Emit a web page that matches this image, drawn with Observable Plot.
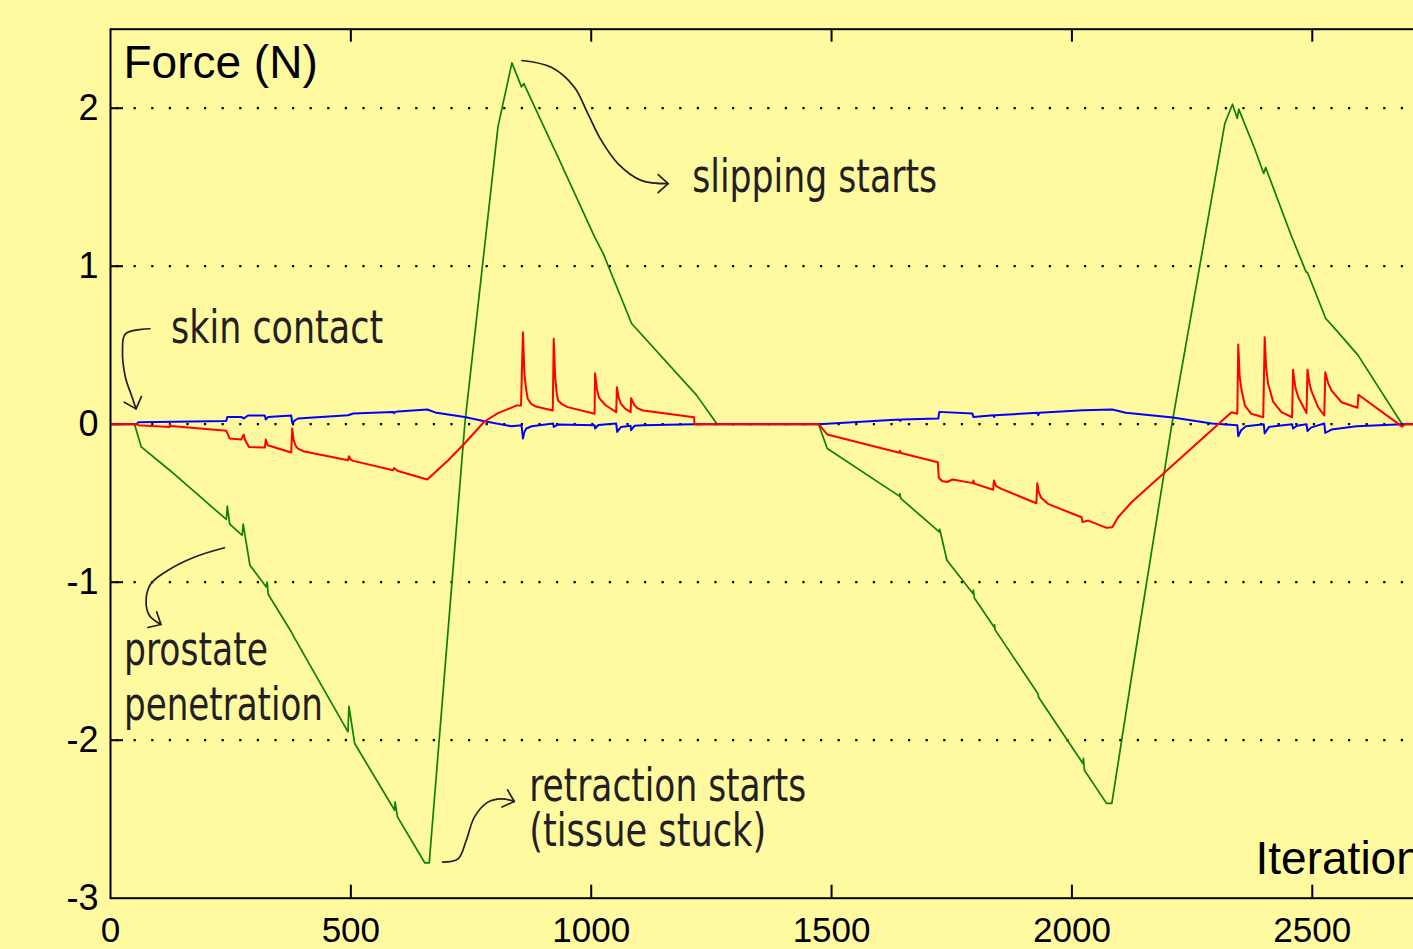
<!DOCTYPE html>
<html><head><meta charset="utf-8">
<script src="https://cdn.jsdelivr.net/npm/d3@7"></script>
<script src="https://cdn.jsdelivr.net/npm/@observablehq/plot@0.6"></script>
<style>
html,body{margin:0;padding:0;background:#FFF9A0;overflow:hidden;}
#chart{width:1413px;height:949px;overflow:hidden;position:relative;}
#chart svg{max-width:none !important;display:block;}
</style></head><body><div id="chart"></div>
<script>
// ---- axes ----
const xTicks = [0, 500, 1000, 1500, 2000, 2500];
const yTickLabels = [2, 1, 0, -1, -2, -3];
const yGrid = [2, 1, 0, -1, -2];
const xTitle = "Iteration";
const yTitle = "Force (N)";

// ---- series: [iteration, force] ----
const greenForce = [
  [0,0],[50,0],[64,-0.144],[125,-0.296],[241,-0.603],[243,-0.519],[248,-0.633],[274,-0.703],[276,-0.633],
  [290,-0.892],[324,-1.03],[326,-1.0],[328,-1.076],[376,-1.314],[383,-1.354],[494,-1.947],[496,-1.785],
  [508,-2.021],[591,-2.443],[592,-2.39],[597,-2.485],[654,-2.777],[663,-2.777],[737,0],[806,1.882],
  [835,2.287],[855,2.135],[860,2.156],[863,2.135],[921,1.755],[926,1.723],[1007,1.185],[1025,1.08],
  [1084,0.637],[1219,0.184],[1262,0],[1473,0],[1491,-0.154],[1641,-0.455],[1642,-0.44],[1644,-0.47],
  [1724,-0.682],[1725,-0.665],[1740,-0.861],[1794,-1.072],[1795,-1.05],[1797,-1.10],[1838,-1.283],
  [1839,-1.27],[1840,-1.30],[1929,-1.705],[1931,-1.73],[2023,-2.148],[2024,-2.115],[2026,-2.19],
  [2072,-2.4],[2083,-2.4],[2124,-1.6],[2208,0],[2318,1.903],[2334,2.025],[2344,1.935],[2347,1.994],
  [2380,1.745],[2399,1.587],[2403,1.625],[2456,1.196],[2487,0.964],[2490,0.96],[2528,0.669],
  [2553,0.584],[2595,0.437],[2687,0],[2800,0]
];
const redForce = [
  [0,0],[54,0],[58,-0.006],[123,-0.017],[124,0],[126,-0.012],[241,-0.042],[248,-0.091],[272,-0.097],
  [277,-0.066],[280,-0.1],[288,-0.144],[321,-0.148],[323,-0.097],[327,-0.133],[376,-0.179],[378,-0.027],
  [381,-0.1],[385,-0.135],[390,-0.154],[401,-0.171],[494,-0.228],[496,-0.203],[499,-0.222],[505,-0.232],
  [588,-0.291],[590,-0.277],[598,-0.296],[659,-0.35],[702,-0.23],[736,-0.124],[778,0.017],[806,0.07],
  [837,0.108],[844,0.118],[854,0.118],[858,0.582],[861,0.319],[865,0.213],[868,0.161],[875,0.129],
  [885,0.112],[920,0.087],[922,0.541],[925,0.3],[928,0.2],[931,0.15],[940,0.125],[951,0.108],
  [1007,0.066],[1008,0.323],[1012,0.22],[1016,0.17],[1021,0.15],[1030,0.12],[1052,0.076],
  [1053.5,0.234],[1057,0.17],[1062,0.129],[1070,0.1],[1082,0.076],[1083,0.165],[1090,0.12],
  [1097,0.1],[1108,0.087],[1214,0.044],[1215,0],[1473,0],[1491,-0.065],[1641,-0.181],[1642,-0.168],
  [1644,-0.182],[1721,-0.241],[1723,-0.339],[1730,-0.36],[1740,-0.366],[1752,-0.35],[1794,-0.373],
  [1795,-0.356],[1797,-0.376],[1836,-0.415],[1838,-0.356],[1842,-0.39],[1853,-0.409],[1926,-0.5],
  [1928,-0.373],[1931,-0.43],[1936,-0.465],[1950,-0.504],[2020,-0.589],[2022,-0.62],[2034,-0.61],
  [2072,-0.656],[2084,-0.652],[2096,-0.589],[2124,-0.494],[2332,0.076],[2344,0.066],[2346,0.504],
  [2349,0.3],[2353,0.213],[2360,0.118],[2373,0.066],[2398,0.044],[2401,0.551],[2404,0.36],
  [2408,0.256],[2419,0.139],[2436,0.076],[2458,0.044],[2460,0.344],[2465,0.23],[2471,0.171],
  [2488,0.07],[2490,0.344],[2494,0.26],[2498,0.213],[2512,0.108],[2525,0.055],[2527,0.329],
  [2533,0.26],[2540,0.213],[2561,0.139],[2594,0.104],[2596,0.186],[2687,-0.015],[2693,0],[2800,0]
];
const blueForce = [
  [0,0],[54,0],[58,0.013],[241,0.021],[243,0.046],[272,0.046],[277,0.036],[286,0.055],[321,0.055],
  [323,0.03],[328,0.046],[376,0.055],[378,0.008],[384,0.025],[390,0.036],[494,0.057],[505,0.068],
  [588,0.078],[590,0.07],[592,0.078],[598,0.08],[659,0.093],[678,0.072],[737,0.046],[778,0.019],
  [834,-0.013],[855,-0.006],[858,-0.091],[861,-0.05],[865,-0.027],[876,-0.013],[921,0.004],[922,-0.017],
  [931,-0.002],[1007,-0.006],[1008,-0.027],[1015,-0.005],[1052,0.004],[1054,-0.049],[1062,-0.017],
  [1082,-0.01],[1083,-0.038],[1090,-0.01],[1107,-0.006],[1215,0],[1473,0],[1641,0.03],[1643,0.02],
  [1645,0.03],[1722,0.036],[1724,0.078],[1793,0.068],[1795,0.046],[1837,0.057],[1838,0.046],
  [1840,0.057],[1928,0.072],[1930,0.057],[1932,0.072],[2023,0.089],[2084,0.093],[2112,0.072],
  [2210,0.042],[2291,0.004],[2344,-0.006],[2346,-0.076],[2352,-0.038],[2362,-0.013],[2399,0],
  [2401,-0.059],[2410,-0.017],[2458,0],[2460,-0.027],[2468,-0.01],[2488,0],[2490,-0.044],
  [2498,-0.02],[2525,0.004],[2527,-0.055],[2540,-0.034],[2592,-0.013],[2687,0],[2800,0]
];

// ---- annotations (data units) ----
const noteText = ["skin contact", "slipping starts", "prostate", "penetration", "retraction starts", "(tissue stuck)"];
const noteX = [126, 1210, 28, 28, 871, 871];
const noteY = [0.511, 1.468, -1.527, -1.875, -2.382, -2.667];
const arrowSkin = [[82,0.604],[31,0.572],[25,0.466],[31,0.297],[45,0.171],[53,0.097]];
const arrowSlip = [[856,2.302],[917,2.259],[965,2.133],[993,1.965],[1021,1.796],[1056,1.648],[1104,1.543],[1160,1.522]];
const arrowProstate = [[237,-0.782],[174,-0.842],[119,-0.926],[84,-1.01],[74,-1.116],[81,-1.211],[105,-1.268]];
const arrowRetract = [[691,-2.772],[723,-2.751],[740,-2.635],[757,-2.487],[785,-2.392],[813,-2.371],[840,-2.388]];

const W = 1456, H = 949, ML = 110, MR = 0, MT = 28.7, MB = 51.3;
const xDom = [0, 2800], yDom = [-3, 2.5];
const kx = (W - ML - MR) / (xDom[1] - xDom[0]);
const ky = (H - MT - MB) / (yDom[1] - yDom[0]);
const tickX = 13 / kx, tickY = 13 / ky;
// rendered widths of the condensed annotation lettering (px)
const noteWidths = [212, 245, 144, 199, 277, 237];

const arrows = [arrowSkin, arrowSlip, arrowProstate, arrowRetract]
  .flatMap((a, i) => a.map(([x, y]) => ({id: i, x, y})));
const notes = noteText.map((t, i) => ({t, x: noteX[i], y: noteY[i]}));

const axisFont = "'Liberation Sans', Arial, Helvetica, sans-serif";
const noteFont = "'Liberation Sans Narrow', 'Arial Narrow', 'DejaVu Sans Condensed', sans-serif";
const ink = "#231F20";

const chart = Plot.plot({
  width: W, height: H,
  marginLeft: ML, marginRight: MR, marginTop: MT, marginBottom: MB,
  x: {domain: xDom, axis: null},
  y: {domain: yDom, axis: null},
  style: {background: "transparent", fontFamily: axisFont, maxWidth: "none", overflow: "visible"},
  marks: [
    Plot.ruleY(yGrid, {x1: xDom[0], x2: xDom[1], stroke: "black", strokeWidth: 2.2, strokeDasharray: "2.2,15.4", strokeDashoffset: -6}),
    Plot.ruleY(yGrid, {x1: 0, x2: tickX, stroke: "black", strokeWidth: 2}),
    Plot.ruleX(xTicks.filter(d => d > 0), {y1: yDom[0], y2: yDom[0] + tickY, stroke: "black", strokeWidth: 2}),
    Plot.ruleX(xTicks.filter(d => d > 0), {y1: yDom[1], y2: yDom[1] - tickY, stroke: "black", strokeWidth: 2}),
    Plot.line(greenForce, {x: d => d[0], y: d => d[1], stroke: "#0B800B", strokeWidth: 1.7, clip: true}),
    Plot.line(blueForce, {x: d => d[0], y: d => d[1], stroke: "#0000FF", strokeWidth: 2, clip: true}),
    Plot.line(redForce, {x: d => d[0], y: d => d[1], stroke: "#FF0000", strokeWidth: 2, clip: true}),
    Plot.frame({stroke: "black", strokeWidth: 2}),
    Plot.text(yTickLabels, {y: d => d, frameAnchor: "left", textAnchor: "end", dx: -12, text: d => String(d), fontSize: 36, fill: "black"}),
    Plot.text(xTicks, {x: d => d, frameAnchor: "bottom", lineAnchor: "top", dy: 19, text: d => String(d), fontSize: 35, fill: "black"}),
    Plot.text([yTitle], {x: 27, y: 2.194, text: d => d, textAnchor: "start", lineAnchor: "bottom", fontSize: 46, fill: "black"}),
    Plot.text([xTitle], {x: 2382, y: -2.844, text: d => d, textAnchor: "start", lineAnchor: "bottom", fontSize: 46, fill: "black"}),
    Plot.text(notes, {x: "x", y: "y", text: "t", textAnchor: "start", lineAnchor: "bottom", fontSize: 47, fill: ink, fontFamily: noteFont}),
    Plot.line(arrows, {x: "x", y: "y", z: "id", curve: "catmull-rom", stroke: ink, strokeWidth: 1.7, markerEnd: "arrow"})
  ]
});

const svg = d3.select(chart);
svg.style("max-width", "none");
svg.selectAll("marker")
  .attr("markerUnits", "userSpaceOnUse")
  .attr("viewBox", "-14 -14 28 28")
  .attr("markerWidth", 28).attr("markerHeight", 28)
  .attr("stroke-width", 1.7)
  .select("path").attr("d", "M-10,-9L0,0L-10,9");
svg.selectAll("text").each(function() {
  const i = noteText.indexOf(this.textContent);
  if (i >= 0) d3.select(this).attr("textLength", noteWidths[i]).attr("lengthAdjust", "spacingAndGlyphs");
});
document.getElementById("chart").appendChild(chart);
</script></body></html>
